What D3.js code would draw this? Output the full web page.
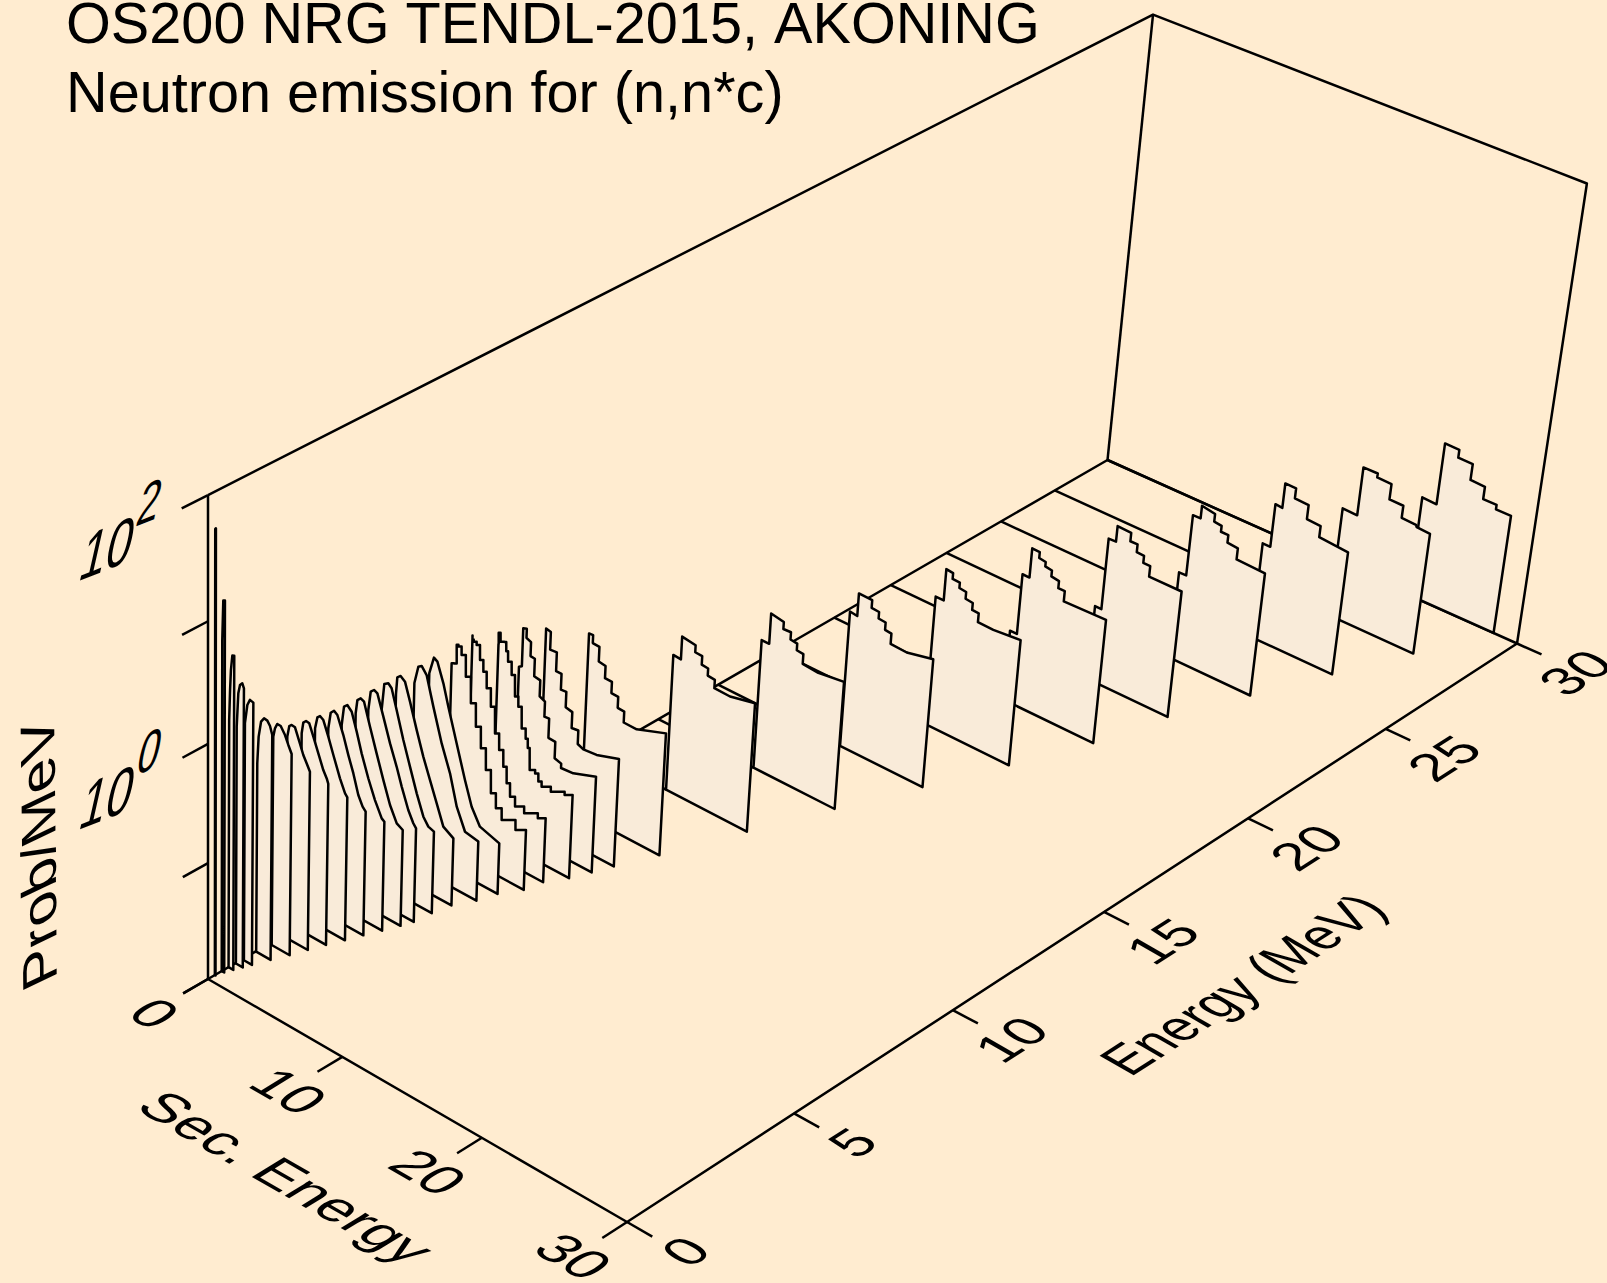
<!DOCTYPE html>
<html>
<head>
<meta charset="utf-8">
<script src="https://cdn.jsdelivr.net/npm/d3@7"></script>
<style>
  body { margin: 0; background: #FFECD0; }
  text { font-family: "Liberation Sans", Arial, sans-serif; fill: #000; font-kerning: none; }
</style>
</head>
<body>
<div id="container"></div>
<script>
/* DATA, back (high energy) to front */
const energies = [30, 28, 26, 24, 22, 20, 18, 16, 14, 12, 10, 9, 8.5, 8, 7.5, 7, 6.5, 6, 5.5, 5, 4.5, 4.2, 3.8, 3.4, 3, 2.6, 2.2, 1.8, 1.4, 1, 0.8, 0.6, 0.4, 0.2];

const secEnergy = [
  [22.36,23.37,23.37,24.37,24.37,25.38,25.38,26.39,26.39,27.32,27.32,28.36],
  [20.37,21.40,21.40,22.40,22.40,23.40,23.40,24.37,24.37,25.37,25.44,26.37],
  [18.62,19.16,19.16,19.65,19.65,20.41,20.41,21.38,21.38,22.35,22.35,24.38],
  [16.62,17.13,17.13,17.67,17.67,18.61,18.61,19.14,19.14,19.66,19.66,20.40,20.40,22.40],
  [14.68,15.14,15.14,15.66,15.66,16.63,16.63,17.14,17.14,17.66,17.66,18.15,18.15,20.44],
  [12.66,13.16,13.16,13.66,13.66,14.20,14.20,14.67,14.67,15.15,15.15,15.70,15.70,16.16,16.16,19.14],
  [11.10,11.68,11.68,12.17,12.17,12.69,12.69,13.18,13.18,13.70,13.70,14.17,14.17,15.27,17.19],
  [9.15,9.68,9.68,10.64,10.64,11.18,11.18,11.69,11.69,12.15,12.15,13.31,15.17],
  [7.15,7.70,7.70,8.63,8.63,9.18,9.18,9.67,9.67,10.15,10.15,11.28,13.11],
  [5.16,5.72,5.72,6.71,6.71,7.22,7.22,7.69,7.69,8.21,8.21,9.35,11.13],
  [3.43,3.73,3.73,4.22,4.22,4.72,4.72,5.23,5.23,5.73,5.73,6.21,6.21,7.16,9.25],
  [2.58,2.58,2.93,2.93,3.42,3.42,3.82,3.82,4.22,4.22,4.71,4.71,5.20,5.20,5.62,6.59,8.20],
  [1.86,2.07,2.07,2.33,2.33,2.67,2.67,2.99,2.99,3.44,3.44,3.84,3.84,4.19,4.19,4.70,4.70,5.19,5.19,6.09,7.73],
  [1.47,1.47,1.74,2.04,2.04,2.35,2.62,2.92,3.19,3.49,3.85,3.85,4.21,4.71,4.71,5.22,6.07,7.23],
  [0.73,0.73,0.92,1.17,1.45,1.72,2.00,2.41,2.71,3.12,3.40,3.69,3.97,4.48,5.34,6.49],
  [0.44,0.79,0.79,1.01,1.27,1.69,2.11,2.53,2.94,3.36,3.78,4.18,4.69,6.24],
  [0.01,0.01,0.32,0.58,1.06,1.47,2.15,2.84,3.39,4.04,5.49],
  [0.13,0.13,0.39,0.63,1.01,1.56,2.24,2.91,3.47,4.13,5.12],
  [0.00,0.07,0.31,0.64,1.04,1.58,2.11,2.64,3.18,3.71,4.47],
  [0.18,0.34,0.63,0.88,1.28,1.82,2.35,2.89,3.42,3.80,4.22],
  [0.42,0.57,0.81,1.06,1.53,2.06,2.58,2.98,3.50,3.89,4.10],
  [0.23,0.34,0.58,0.83,1.30,1.82,2.35,2.88,3.40,3.85],
  [0.20,0.35,0.59,0.92,1.31,1.70,2.22,2.74,3.26,3.46],
  [0.21,0.37,0.61,0.86,1.32,1.71,2.10,2.49,2.82,3.05],
  [0.23,0.39,0.58,0.83,1.21,1.60,2.11,2.50,2.67],
  [0.25,0.36,0.56,0.80,1.11,1.49,1.87,2.13,2.25],
  [0.20,0.34,0.51,0.76,1.09,1.39,1.64,1.89],
  [0.18,0.30,0.47,0.72,1.04,1.29,1.54],
  [0.03,0.12,0.29,0.51,0.75,0.95,1.12],
  [0.13,0.30,0.49,0.74],
  [0.04,0.15,0.27,0.44,0.56],
  [0.00,0.06,0.12,0.22,0.36],
  [0.00,0.07,0.19],
  [0.00,0.05]
];

const probPerMeV = [
  [0.0779,0.0767,0.269,0.267,0.228,0.227,0.164,0.162,0.126,0.126,0.115,0.115],
  [0.0935,0.0925,0.247,0.248,0.229,0.227,0.166,0.165,0.129,0.127,0.122,0.12],
  [0.0709,0.0708,0.17,0.168,0.276,0.275,0.225,0.222,0.167,0.164,0.131,0.125],
  [0.0592,0.0594,0.204,0.205,0.265,0.253,0.217,0.213,0.189,0.189,0.162,0.159,0.127,0.124],
  [0.0455,0.0453,0.192,0.193,0.265,0.262,0.221,0.222,0.19,0.188,0.163,0.163,0.132,0.132],
  [0.0419,0.0419,0.142,0.142,0.256,0.255,0.226,0.222,0.203,0.199,0.177,0.173,0.15,0.15,0.122,0.125],
  [0.137,0.137,0.257,0.253,0.225,0.224,0.201,0.198,0.173,0.17,0.148,0.147,0.123,0.122,0.129],
  [0.156,0.153,0.241,0.239,0.205,0.203,0.178,0.176,0.152,0.15,0.122,0.12,0.135],
  [0.135,0.135,0.248,0.237,0.206,0.208,0.18,0.177,0.155,0.153,0.126,0.123,0.132],
  [0.155,0.153,0.241,0.232,0.202,0.2,0.169,0.167,0.145,0.143,0.121,0.12,0.134],
  [0.38,0.382,0.327,0.324,0.243,0.238,0.187,0.186,0.149,0.148,0.119,0.118,0.0949,0.0946,0.117],
  [0.231,0.531,0.518,0.367,0.372,0.257,0.257,0.188,0.19,0.14,0.136,0.0992,0.101,0.0771,0.0735,0.0754,0.0874],
  [0.27,0.281,0.592,0.607,0.508,0.489,0.372,0.369,0.261,0.256,0.187,0.178,0.132,0.133,0.0908,0.0901,0.065,0.0625,0.0572,0.0585,0.0691],
  [0.479,0.596,0.519,0.538,0.447,0.381,0.304,0.207,0.176,0.119,0.102,0.085,0.0575,0.0577,0.049,0.0475,0.0486,0.0537],
  [0.609,0.563,0.554,0.537,0.415,0.343,0.257,0.189,0.116,0.0884,0.0659,0.0492,0.0391,0.0345,0.0341,0.0365],
  [0.405,0.423,0.61,0.607,0.534,0.37,0.232,0.155,0.107,0.0737,0.0491,0.0385,0.0328,0.0336],
  [0.326,0.377,0.532,0.509,0.356,0.238,0.127,0.0675,0.0428,0.0315,0.0278],
  [0.268,0.377,0.537,0.563,0.497,0.289,0.154,0.0936,0.0522,0.0348,0.033],
  [0.358,0.499,0.53,0.496,0.355,0.219,0.14,0.0951,0.0646,0.0438,0.0387],
  [0.32,0.544,0.574,0.539,0.373,0.224,0.143,0.091,0.0618,0.0536,0.0516],
  [0.397,0.578,0.618,0.599,0.407,0.26,0.177,0.127,0.0862,0.0701,0.0653],
  [0.404,0.531,0.567,0.55,0.361,0.231,0.148,0.0973,0.073,0.0683],
  [0.37,0.54,0.576,0.53,0.38,0.263,0.174,0.122,0.0918,0.0885],
  [0.402,0.556,0.598,0.57,0.412,0.295,0.218,0.151,0.126,0.118],
  [0.466,0.589,0.621,0.595,0.455,0.337,0.23,0.181,0.172],
  [0.491,0.613,0.65,0.643,0.519,0.397,0.303,0.267,0.244],
  [0.529,0.662,0.692,0.685,0.544,0.439,0.387,0.341],
  [0.61,0.728,0.811,0.807,0.711,0.608,0.529],
  [0.414,0.7,0.955,1.05,1.04,0.965,0.832],
  [1.05,1.52,1.72,1.69],
  [1.04,2,2.37,2.51,2.32],
  [1.26,2.25,3.32,4.4,4.48],
  [6.12,12.9,13.1],
  [50.7,51.6]
];

const secTicks = [0, 10, 20, 30];
const energyTicks = [0, 5, 10, 15, 20, 25, 30];
const probTicks = [1e-2, 1e-1, 1e0, 1e1, 1e2];
const probLabels = [[1e0, "10", "0"], [1e2, "10", "2"]];
const titleLines = ["OS200 NRG TENDL-2015, AKONING", "Neutron emission for (n,n*c)"];
const stairPanels = [8, 7.5, 7]; // these panels show clear stairs in the reference

/* SCALES - unit cube, then a perspective camera */
const width = 1607, height = 1283, lineColor = "#000", panelFill = "#F9EBD9", lineWidth = 2.5;
const secScale = d3.scaleLinear().domain([0, 30]).range([0, 1]);
const energyScale = d3.scaleLinear().domain([0, 30]).range([0, 1]);
const probScale = d3.scaleLog().domain([1e-2, 1e2]).range([0, 1]);

function project(sec, energy, prob) {
  const u = secScale(sec), v = energyScale(energy), w = probScale(prob);
  const d = 1 - 0.05653 * u + 0.14605 * v - 0.0552 * w;
  return [
    (208 + 383.6 * u + 1061.25 * v - 11.48 * w) / d,
    (979 + 173.9 * u - 451.8 * v - 511.3 * w) / d
  ];
}

const line = d3.line();
const stairLine = d3.line().curve(d3.curveStep);
const floorProb = 1e-2, topProb = 1e2;

const svg = d3.select("#container").append("svg")
  .attr("width", width)
  .attr("height", height)
  .style("display", "block");

svg.append("rect").attr("width", width).attr("height", height).attr("fill", "#FFECD0");

function segment(points) {
  svg.append("path")
    .attr("d", line(points.map(p => project(...p))))
    .attr("fill", "none")
    .attr("stroke", lineColor)
    .attr("stroke-width", lineWidth)
    .attr("stroke-linejoin", "round");
}

// text that lies in one of the box planes
function planeText(str, cx, cy, b, u, sizeB, sizeU) {
  svg.append("text")
    .attr("transform", `matrix(${b[0] * sizeB / 100},${b[1] * sizeB / 100},${-u[0] * sizeU / 100},${-u[1] * sizeU / 100},${cx},${cy})`)
    .attr("font-size", 100)
    .attr("text-anchor", "middle")
    .attr("y", 36)
    .text(str);
}

/* BOX */
segment([[0, 0, topProb], [0, 30, topProb], [30, 30, topProb], [30, 30, floorProb], [0, 30, floorProb], [0, 0, floorProb], [30, 0, floorProb], [30, 30, floorProb]]);
segment([[0, 0, floorProb], [0, 0, topProb]]);
segment([[0, 30, floorProb], [0, 30, topProb]]);

/* TICKS AND LABELS */
const secDir = [0.866, 0.5], energyDir = [0.85, -0.52], wallDir = [0.93, -0.37], wallUp = [0.22, -0.975];

secTicks.forEach(t => {
  segment([[t, 0, floorProb], [t, -0.72, floorProb]]);
  const p = project(t, 0, floorProb);
  planeText(t, p[0] - 53, p[1] + 34, secDir, energyDir, 56, 55);
});

energyTicks.forEach(t => {
  segment([[30, t, floorProb], [31.7, t, floorProb]]);
  const p = project(30, t, floorProb);
  planeText(t, p[0] + 58, p[1] + 29, [0.84, -0.54], [-0.87, -0.5], 54, 53);
});

probTicks.forEach(t => segment([[0, 0, t], [0, -0.72, t]]));

probLabels.forEach(([t, base, exponent]) => {
  const p = project(0, 0, t);
  planeText(base, p[0] - 100, p[1] + 52, wallDir, wallUp, 50, 70);
  planeText(exponent, p[0] - 58, p[1] + 6, wallDir, wallUp, 42, 62);
});

planeText("Sec. Energy", 287, 1177, secDir, energyDir, 58, 55);
planeText("Energy (MeV)", 1242, 984, [0.84, -0.54], [-0.87, -0.5], 50, 57);
planeText("Prob/MeV", 38, 854, [-0.01, -1], [-0.9, 0.43], 60, 54);

svg.selectAll(".title")
  .data(titleLines)
  .join("text")
  .attr("class", "title")
  .attr("x", 66)
  .attr("y", (d, i) => 43 + i * 69)
  .attr("font-size", 57.65)
  .text(d => d);

/* PANELS */
energies.forEach((e, i) => {
  const secs = secEnergy[i], probs = probPerMeV[i];
  const first = secs[0], last = secs[secs.length - 1];
  const curve = stairPanels.includes(e) ? stairLine : line;

  // floor line from the back wall up to the panel
  segment([[0, e, floorProb], [first, e, floorProb]]);

  const top = curve(secs.map((s, j) => project(s, e, probs[j])));
  const start = project(first, e, floorProb), end = project(last, e, floorProb);

  svg.append("path")
    .attr("d", `M${start}L${top.slice(1)}L${end}Z`)
    .attr("fill", panelFill)
    .attr("stroke", lineColor)
    .attr("stroke-width", lineWidth)
    .attr("stroke-linejoin", "round");
});
</script>
</body>
</html>
